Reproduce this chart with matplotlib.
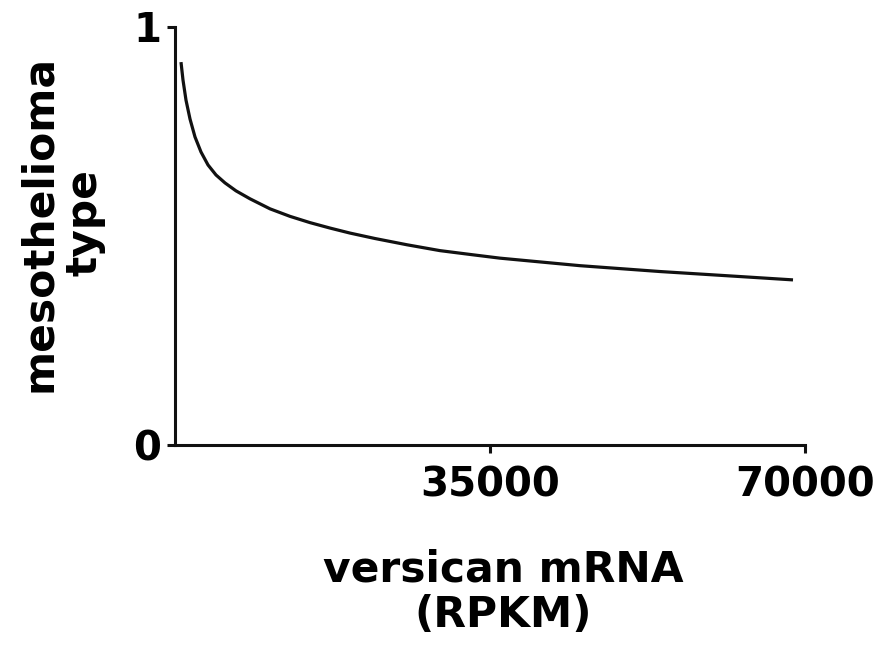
import matplotlib
matplotlib.use("Agg")
import matplotlib.pyplot as plt

# values
versican = [667, 889, 1222, 1667, 2222, 2889, 3667, 4556, 5556, 6778, 8333,
            10556, 12778, 15000, 17222, 19444, 22222, 25778, 29444, 33111,
            36111, 45000, 53889, 62778, 68667]
meso_type = [0.916, 0.873, 0.825, 0.780, 0.737, 0.701, 0.670, 0.646, 0.627, 0.608, 0.589,
             0.565, 0.547, 0.532, 0.519, 0.507, 0.494, 0.479, 0.465, 0.455,
             0.447, 0.429, 0.415, 0.403, 0.395]

x_ticks = [35000, 70000]
x_tick_labels = ["35000", "70000"]
y_ticks = [0, 1]
y_tick_labels = ["0", "1"]

plt.rcParams['font.family'] = ['DejaVu Sans']
plt.rcParams['font.weight'] = 'bold'

fig = plt.figure(figsize=(8.77, 6.5), dpi=100)
ax = fig.add_axes([175 / 877, 205 / 650, 630 / 877, 418 / 650])

ax.plot(versican, meso_type, color='#111111', lw=2.3, solid_capstyle='butt',
        solid_joinstyle='round')

ax.set_xlim(0, 70000)
ax.set_ylim(0, 1)
ax.set_xticks(x_ticks)
ax.set_xticklabels(x_tick_labels)
ax.set_yticks(y_ticks)
ax.set_yticklabels(y_tick_labels)

for side in ['top', 'right']:
    ax.spines[side].set_visible(False)
for side in ['left', 'bottom']:
    ax.spines[side].set_linewidth(2.2)
    ax.spines[side].set_color('#111111')

ax.tick_params(axis='both', direction='out', length=6, width=2.2, color='#111111',
               labelsize=29)
ax.tick_params(axis='x', pad=9)
ax.tick_params(axis='y', pad=4)
for lbl in ax.get_xticklabels() + ax.get_yticklabels():
    lbl.set_fontweight('bold')

fig.text(503 / 877, 1 - 592 / 650, "versican mRNA\n(RPKM)", ha='center', va='center',
         fontsize=30.5, fontweight='bold', linespacing=1.1)
fig.text(62 / 877, 1 - 223 / 650, "mesothelioma\ntype", ha='center', va='center',
         rotation=90, fontsize=30.5, fontweight='bold', linespacing=1.1,
         multialignment='center')

fig.savefig("out.png", dpi=100)
